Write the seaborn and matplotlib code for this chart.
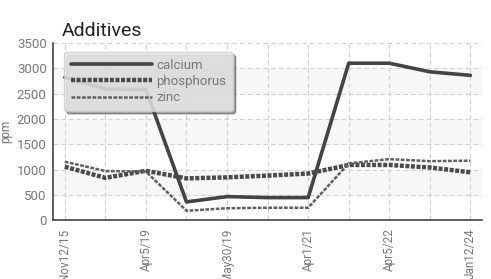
import pandas as pd
import matplotlib.pyplot as plt
import seaborn as sns

dates = ['Nov12/15', '', 'Apr5/19', '', 'May30/19', '', 'Apr1/21', '', 'Apr5/22', '', 'Jan12/24']
calcium = [2820, 2590, 2580, 360, 465, 445, 445, 3100, 3100, 2930, 2860]
phosphorus = [1055, 835, 975, 825, 845, 880, 920, 1090, 1090, 1040, 945]
zinc = [1155, 970, 960, 185, 235, 245, 245, 1120, 1205, 1165, 1175]

df = pd.DataFrame({'idx': range(len(dates)), 'calcium': calcium,
                   'phosphorus': phosphorus, 'zinc': zinc})

sns.set_style("white")
plt.rcParams['font.family'] = ['Roboto', 'DejaVu Sans']

fig = plt.figure(figsize=(4.91, 2.79), dpi=100)
ax = fig.add_axes([0.108, 0.211, 0.874, 0.635])

# alternating horizontal bands
for lo in [500, 1500, 2500]:
    ax.axhspan(lo, lo + 500, color='#f7f7f7', zorder=0)

sns.lineplot(data=df, x='idx', y='calcium', ax=ax, color='#444444', lw=2.6,
             label='calcium', zorder=3)
sns.lineplot(data=df, x='idx', y='phosphorus', ax=ax, color='#4a4a4a', lw=3.2,
             label='phosphorus', zorder=3, dashes=(0.9, 0.35))
sns.lineplot(data=df, x='idx', y='zinc', ax=ax, color='#606060', lw=1.8,
             label='zinc', zorder=3, dashes=(1.5, 0.6))

ax.set_xlim(-0.29, 10.29)
ax.set_ylim(0, 3500)
ax.set_xticks(range(len(dates)))
ax.set_xticklabels(dates, rotation=90, color='#777777', fontsize=8.5)
ax.set_yticks(range(0, 3501, 500))
ax.tick_params(axis='y', labelsize=9.5, colors='#777777', length=5, direction='inout', pad=2)
ax.tick_params(axis='x', length=5, direction='inout', color='#444444')
ax.tick_params(axis='y', color='#444444')
ax.grid(True, ls=(0, (4, 3)), color='#d0d0d0', lw=0.8)
for s in ['top', 'right']:
    ax.spines[s].set_visible(False)
for s in ['left', 'bottom']:
    ax.spines[s].set_color('#444444')
    ax.spines[s].set_linewidth(1.2)

ax.set_xlabel('')
ax.set_ylabel('ppm', color='#777777', fontsize=8.5, labelpad=3)
ax.set_title('Additives', loc='left', fontsize=14, color='#222222', pad=5, x=0.02)

leg = ax.legend(loc='upper left', bbox_to_anchor=(0.01, 0.985), handlelength=6.2,
                fontsize=9.5, frameon=True, fancybox=True, shadow=True,
                borderpad=0.5, labelspacing=0.25, handletextpad=0.3)
leg.get_frame().set_facecolor('#eeeeee')
leg.get_frame().set_edgecolor('#cccccc')
leg.get_frame().set_alpha(0.8)
for t in leg.get_texts():
    t.set_color('#777777')

plt.savefig('out.png', dpi=100)
plt.close()
